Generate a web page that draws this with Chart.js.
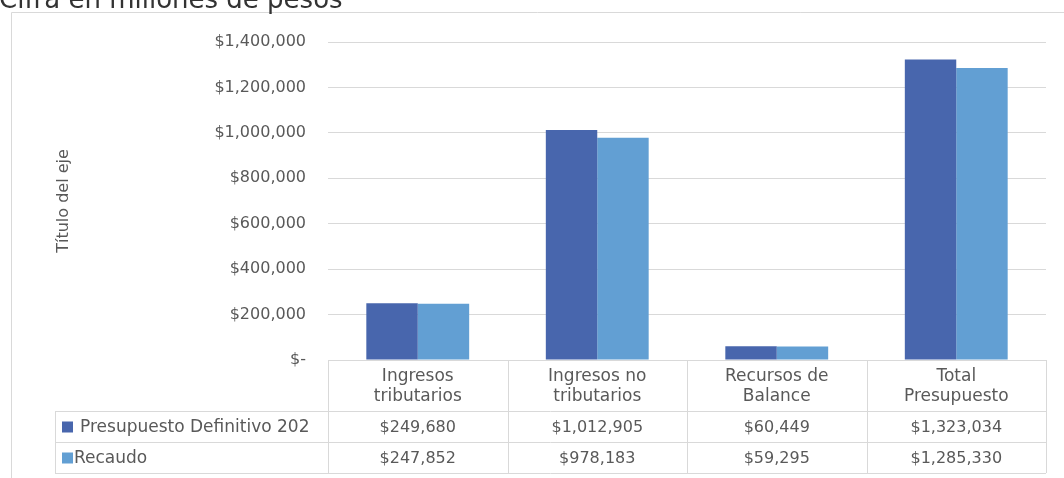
<!DOCTYPE html>
<html>
<head>
<meta charset="utf-8">
<script src="https://cdn.jsdelivr.net/npm/chart.js@4/dist/chart.umd.min.js"></script>
<style>
  html, body { margin: 0; padding: 0; background: #fff; }
  #wrap { width: 1064px; height: 478px; overflow: hidden; }
</style>
</head>
<body>
<div id="wrap"><canvas id="chart" width="1064" height="478"></canvas></div>
<script>
const chartTitle = 'Cifra en millones de pesos'
const axisTitle = 'Título del eje'
const categories = [
  ['Ingresos', 'tributarios'],
  ['Ingresos no', 'tributarios'],
  ['Recursos de', 'Balance'],
  ['Total', 'Presupuesto']
]
const seriesNames = ['Presupuesto Definitivo 202', 'Recaudo']
const presupuesto = [249680, 1012905, 60449, 1323034]
const recaudo = [247852, 978183, 59295, 1285330]
const yTicks = [0, 200000, 400000, 600000, 800000, 1000000, 1200000, 1400000]

const FONT = '"DejaVu Sans", sans-serif'
const TEXT = '#595959'
const LINE = '#d9d9d9'
const colors = ['#4866ad', '#629fd3']

const money = (v) => v === 0 ? '$-' : '$' + v.toLocaleString('en-US')

// title, outer frame and the data table under the plot
const tablePlugin = {
  id: 'tablePlugin',
  afterDraw (chart) {
    const ctx = chart.ctx
    const area = chart.chartArea
    const x = chart.scales.x
    const n = categories.length
    const colW = (area.right - area.left) / n
    const rows = [area.bottom, 411, 442, 473]
    const legendLeft = 55

    ctx.save()
    // outer frame
    ctx.strokeStyle = LINE
    ctx.lineWidth = 1
    ctx.beginPath()
    ctx.moveTo(11.5, 478)
    ctx.lineTo(11.5, 12.5)
    ctx.lineTo(1064, 12.5)
    ctx.stroke()

    // title, cut at the top like the picture
    ctx.fillStyle = '#333333'
    ctx.font = '26px ' + FONT
    ctx.textAlign = 'left'
    ctx.textBaseline = 'alphabetic'
    ctx.fillText(chartTitle, -1, 8)

    // table lines
    ctx.strokeStyle = LINE
    ctx.beginPath()
    ctx.moveTo(area.left, rows[0] + 0.5)
    ctx.lineTo(area.right, rows[0] + 0.5)
    for (let r = 1; r < rows.length; r++) {
      ctx.moveTo(legendLeft, rows[r] + 0.5)
      ctx.lineTo(area.right, rows[r] + 0.5)
    }
    for (let i = 0; i <= n; i++) {
      const cx = Math.round(area.left + i * colW) + 0.5
      ctx.moveTo(cx, rows[0])
      ctx.lineTo(cx, rows[3])
    }
    ctx.moveTo(legendLeft + 0.5, rows[1])
    ctx.lineTo(legendLeft + 0.5, rows[3])
    ctx.stroke()

    // header (category names)
    ctx.fillStyle = TEXT
    ctx.font = '17px ' + FONT
    ctx.textAlign = 'center'
    ctx.textBaseline = 'middle'
    categories.forEach((lines, i) => {
      const cx = x.getPixelForValue(i)
      ctx.fillText(lines[0], cx, 377)
      ctx.fillText(lines[1], cx, 397)
    })

    // values
    const series = [presupuesto, recaudo]
    series.forEach((vals, s) => {
      const cy = (rows[s + 1] + rows[s + 2]) / 2 + 1
      ctx.font = '16px ' + FONT
      vals.forEach((v, i) => {
        ctx.fillText(money(v), x.getPixelForValue(i), cy)
      })
      // legend key + name
      ctx.fillStyle = colors[s]
      ctx.fillRect(62, cy - 6, 11, 11)
      ctx.fillStyle = TEXT
      ctx.font = '17px ' + FONT
      ctx.textAlign = 'left'
      ctx.fillText(seriesNames[s], s === 0 ? 80 : 74, cy)
      ctx.textAlign = 'center'
    })
    ctx.restore()
  }
}

new Chart(document.getElementById('chart'), {
  type: 'bar',
  data: {
    labels: categories.map((c) => c.join(' ')),
    datasets: [
      { label: seriesNames[0], data: presupuesto, backgroundColor: colors[0], categoryPercentage: 0.573, barPercentage: 1 },
      { label: seriesNames[1], data: recaudo, backgroundColor: colors[1], categoryPercentage: 0.573, barPercentage: 1 }
    ]
  },
  options: {
    responsive: false,
    animation: false,
    layout: { padding: { left: 54, top: 42, right: 18, bottom: 118 } },
    plugins: {
      legend: { display: false },
      tooltip: { enabled: false }
    },
    scales: {
      x: { display: false },
      y: {
        min: 0,
        max: 1400000,
        afterBuildTicks: (scale) => { scale.ticks = yTicks.map((v) => ({ value: v })) },
        afterFit: (scale) => { scale.width = 328 - 54 },
        border: { display: false },
        grid: { color: LINE, drawTicks: false },
        ticks: {
          padding: 22,
          color: TEXT,
          font: { family: FONT, size: 16 },
          callback: (v) => money(v)
        },
        title: {
          display: true,
          text: axisTitle,
          color: TEXT,
          padding: 0,
          font: { family: FONT, size: 16 }
        }
      }
    }
  },
  plugins: [tablePlugin]
})
</script>
</body>
</html>
